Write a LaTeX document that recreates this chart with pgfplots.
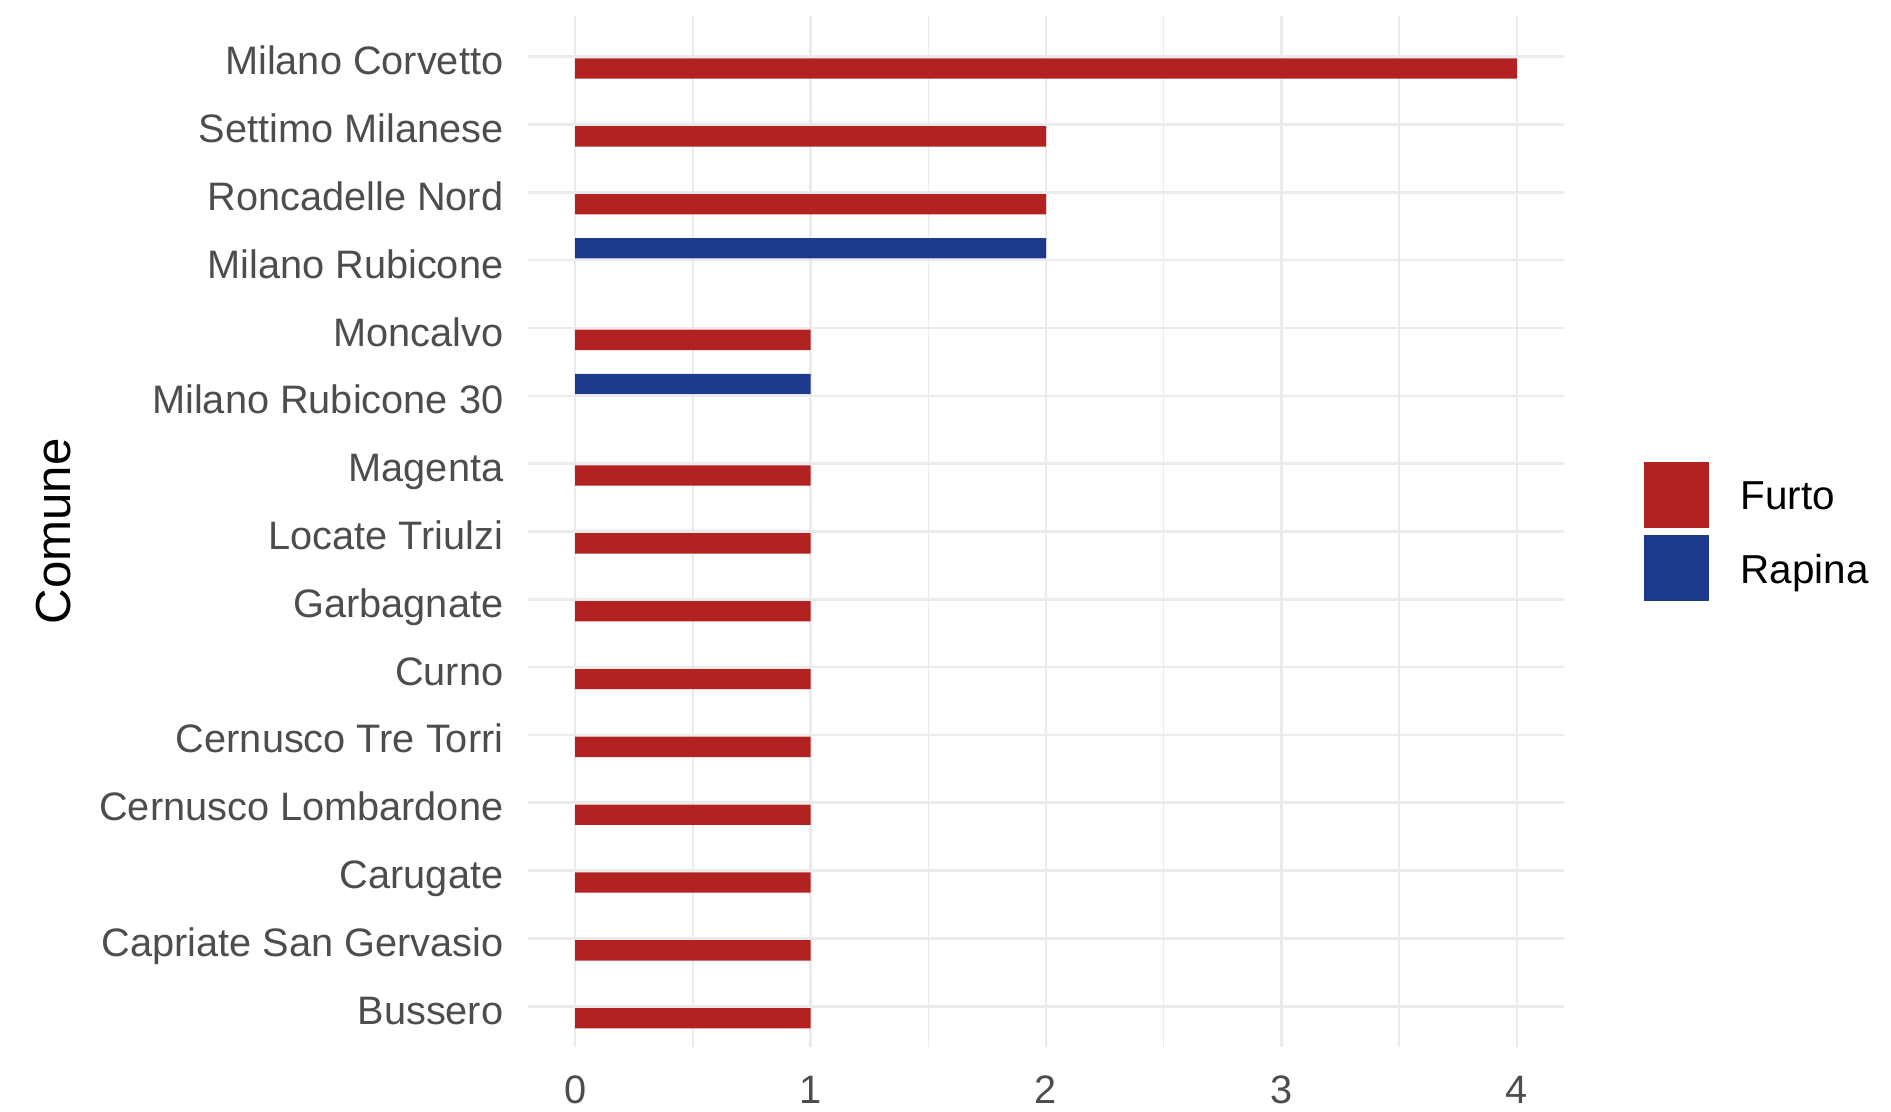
\documentclass[border=0pt]{standalone}
\usepackage{fontspec}
\setmainfont{Liberation Sans}
\usepackage{pgfplots}
\pgfplotsset{compat=1.18}
\definecolor{furto}{HTML}{B22222}
\definecolor{rapina}{HTML}{1E3A8A}
\definecolor{gridc}{HTML}{EBEBEB}
\definecolor{txt}{HTML}{4D4D4D}
\begin{document}
\begin{tikzpicture}
\path[use as bounding box] (0,0) rectangle (189.1mm,111.1mm);
\begin{axis}[
  at={(52.8mm,6.4mm)}, anchor=south west,
  scale only axis, width=103.6mm, height=103.1mm,
  xmin=-0.2, xmax=4.2, ymin=0.4, ymax=15.6,
  axis line style={draw=none},
  tick style={draw=none},
  xtick={0,1,2,3,4}, minor x tick num=1,
  ytick={1,...,15},
  yticklabels={Bussero, Capriate San Gervasio, Carugate, Cernusco Lombardone, Cernusco Tre Torri, Curno, Garbagnate, Locate Triulzi, Magenta, Milano Rubicone 30, Moncalvo, Milano Rubicone, Roncadelle Nord, Settimo Milanese, Milano Corvetto},
  xmajorgrids, xminorgrids, ymajorgrids,
  major grid style={gridc, line width=0.75pt},
  minor grid style={gridc, line width=0.4pt},
  /pgf/number format/assume math mode=true,
  ticklabel style={font=\fontsize{11.3}{13}\selectfont, text=txt},
  yticklabel style={anchor=east, inner sep=0pt, xshift=-2.4mm, text height=2.9mm, text depth=0mm, yshift=-0.35mm},
  xticklabel style={anchor=center, inner sep=0pt, yshift=-4.2mm, text height=2.9mm, text depth=0mm},
  ylabel={Comune},
  ylabel style={at={(axis description cs:-0.4575,0.5)}, anchor=center, font=\fontsize{14}{16}\selectfont, text=black},
  legend style={draw=none, fill=none, at={(1,0.5)}, anchor=west, xshift=7.9mm,
    font=\fontsize{11.5}{13}\selectfont, inner sep=0pt, row sep=0.7mm, column sep=3.2mm,
    nodes={inner sep=0pt}},
  legend cell align=left,
]
\addplot[xbar, bar width=0.3, bar shift=-0.175, fill=furto, draw=none,
  legend image code/.code={\fill[furto] (0mm,-3.3mm) rectangle (6.5mm,3.3mm);}]
  coordinates {(1,1) (1,2) (1,3) (1,4) (1,5) (1,6) (1,7) (1,8) (1,9) (1,11) (2,13) (2,14) (4,15)};
\addplot[xbar, bar width=0.3, bar shift=0.175, fill=rapina, draw=none,
  legend image code/.code={\fill[rapina] (0mm,-3.3mm) rectangle (6.5mm,3.3mm);}]
  coordinates {(1,10) (2,12)};
\legend{\raisebox{-0.6mm}{Furto},\raisebox{-0.6mm}{Rapina}}
\end{axis}
\end{tikzpicture}
\end{document}
